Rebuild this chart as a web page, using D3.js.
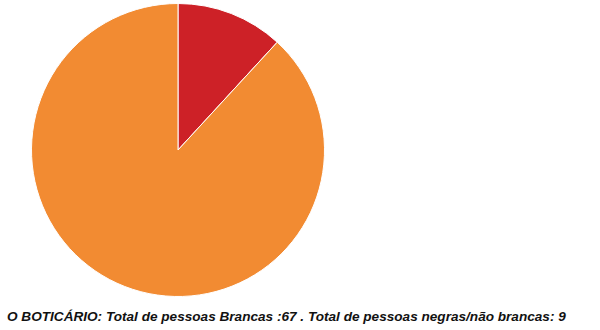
<!DOCTYPE html>
<html>
<head>
<meta charset="utf-8">
<script src="https://cdn.jsdelivr.net/npm/d3@7"></script>
<style>
  body { margin: 0; background: #fff; }
</style>
</head>
<body>
<svg id="chart" width="600" height="330"></svg>
<script>
// data
var categories = ["Negras/não brancas", "Brancas"];
var values = [9, 67];
var colors = ["#cd2127", "#f28b32"];
var caption = "O BOTICÁRIO: Total de pessoas Brancas :67 . Total de pessoas negras/não brancas: 9";

var svg = d3.select("#chart");
var cx = 178, cy = 150, r = 146.5;

var pie = d3.pie().sort(null).value(function(d) { return d; });
var arc = d3.arc().innerRadius(0).outerRadius(r);

var g = svg.append("g").attr("transform", "translate(" + cx + "," + cy + ")");

g.selectAll("path")
  .data(pie(values))
  .enter().append("path")
  .attr("d", arc)
  .attr("fill", function(d, i) { return colors[i]; })
  .attr("stroke", "#fff")
  .attr("stroke-width", 1);

svg.append("text")
  .attr("x", 7)
  .attr("y", 321)
  .attr("font-family", "Liberation Sans, Arial, sans-serif")
  .attr("font-weight", "bold")
  .attr("font-style", "italic")
  .attr("font-size", 13.6)
  .attr("fill", "#111")
  .text(caption);
</script>
</body>
</html>
